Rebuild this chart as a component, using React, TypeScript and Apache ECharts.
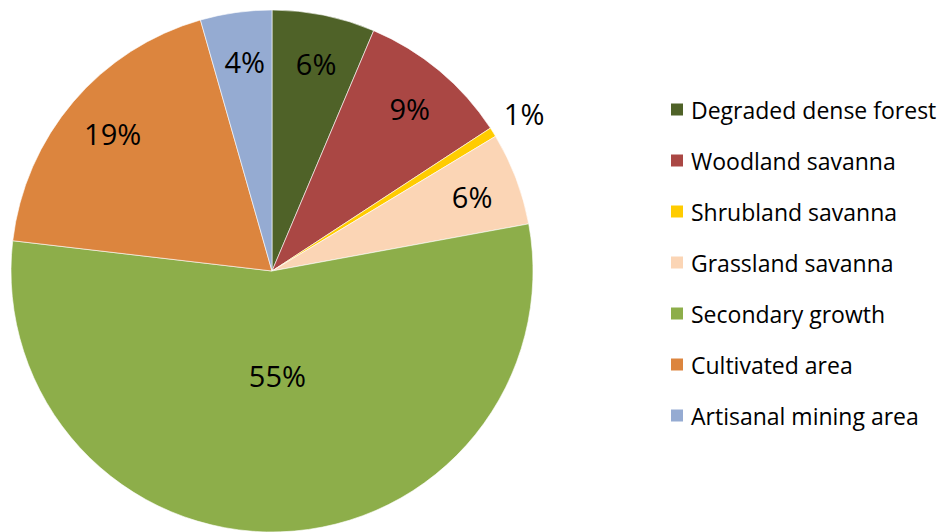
import React, { useEffect, useRef } from "react";
import * as echarts from "echarts";

const categories = [
  "Degraded dense forest",
  "Woodland savanna",
  "Shrubland savanna",
  "Grassland savanna",
  "Secondary growth",
  "Cultivated area",
  "Artisanal mining area",
];
const values = [6.37, 9.41, 0.59, 5.74, 54.74, 18.73, 4.42];
const colors = ["#4F6228", "#AA4744", "#FFCC00", "#FBD5B5", "#8DAE4A", "#DC853E", "#95ABD2"];
// which label ring each slice's label sits in: 0 = outer band, 1 = center, 2 = outside
const labelBand = [0, 0, 2, 0, 1, 0, 0];

const FONT = "'Open Sans', 'Noto Sans', sans-serif";

export default function App() {
  const ref = useRef<HTMLDivElement>(null);
  useEffect(() => {
    document.body.style.margin = "0";
    const chart = echarts.init(ref.current!, null, { renderer: "svg" });
    const cx = 272, cy = 271, R = 261;
    const fmt = (p: any) => Math.round(p.percent) + "%";
    const labelSeries = (band: number, radius: number[]) => ({
      type: "pie",
      center: [cx, cy],
      radius,
      silent: true,
      legendHoverLink: false,
      emphasis: { disabled: true },
      labelLine: { show: false },
      data: categories.map((name, i) => ({
        name,
        value: values[i],
        itemStyle: { color: "transparent", borderWidth: 0 },
        label: {
          show: labelBand[i] === band,
          position: "inside",
          formatter: fmt,
          color: "#000",
          fontSize: 29,
          fontFamily: FONT,
          padding: [6, 0, 0, 4],
        },
      })),
    });
    chart.setOption({
      animation: false,
      legend: {
        orient: "vertical",
        left: 664,
        top: 93,
        itemWidth: 14,
        itemHeight: 14,
        itemGap: 28,
        icon: "rect",
        data: categories,
        selectedMode: false,
        textStyle: { fontSize: 23, lineHeight: 23, color: "#000", fontFamily: FONT, padding: [0, 0, 0, 2] },
      },
      series: [
        {
          type: "pie",
          center: [cx, cy],
          radius: [0, R],
          label: { show: false },
          labelLine: { show: false },
          emphasis: { disabled: true },
          itemStyle: { borderColor: "#ffffff", borderWidth: 0.6 },
          data: categories.map((name, i) => ({ name, value: values[i], itemStyle: { color: colors[i] } })),
        },
        labelSeries(0, [R * 0.6, R]),
        labelSeries(1, [0, R * 0.78]),
        labelSeries(2, [R, R * 1.24]),
      ],
    });
    return () => chart.dispose();
  }, []);
  return <div ref={ref} style={{ width: 949, height: 532 }} />;
}
